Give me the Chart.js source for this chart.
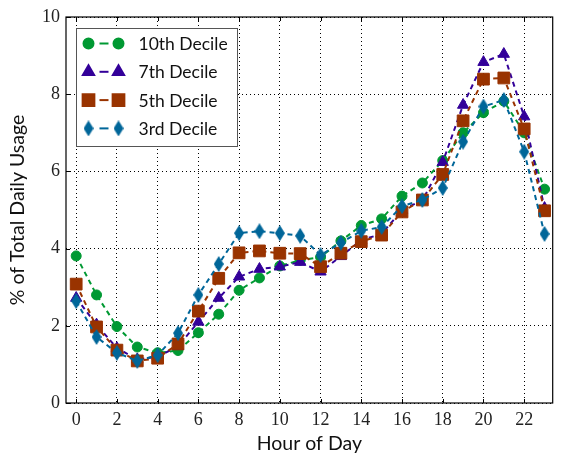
<!DOCTYPE html>
<html>
<head>
<meta charset="utf-8">
<script src="https://cdn.jsdelivr.net/npm/chart.js@4.4.1/dist/chart.umd.min.js"></script>
<style>
  html, body { margin: 0; padding: 0; background: #fff; }
</style>
</head>
<body>
<canvas id="myChart" width="562" height="457"></canvas>
<script>
// Heures de la journée
const hours = [0, 1, 2, 3, 4, 5, 6, 7, 8, 9, 10, 11, 12, 13, 14, 15, 16, 17, 18, 19, 20, 21, 22, 23];

// Séries (% de la consommation journalière)
const decile10 = [3.81, 2.8, 1.98, 1.45, 1.3, 1.36, 1.82, 2.3, 2.92, 3.24, 3.55, 3.7, 3.78, 4.2, 4.6, 4.77, 5.36, 5.7, 6.28, 7.0, 7.52, 7.82, 7.0, 5.54];
const decile7 = [2.72, 2.03, 1.42, 1.13, 1.2, 1.47, 2.1, 2.72, 3.27, 3.47, 3.53, 3.65, 3.4, 3.8, 4.22, 4.38, 5.0, 5.25, 6.24, 7.72, 8.83, 9.04, 7.42, 5.05];
const decile5 = [3.08, 1.97, 1.37, 1.09, 1.16, 1.53, 2.38, 3.23, 3.89, 3.94, 3.88, 3.87, 3.53, 3.88, 4.18, 4.35, 4.95, 5.26, 5.92, 7.31, 8.39, 8.42, 7.1, 4.98];
const decile3 = [2.64, 1.71, 1.3, 1.09, 1.24, 1.81, 2.8, 3.6, 4.4, 4.45, 4.4, 4.33, 3.83, 4.15, 4.46, 4.56, 5.1, 5.26, 5.57, 6.77, 7.68, 7.85, 6.51, 4.38];

const seriesNames = ["10th Decile", "7th Decile", "5th Decile", "3rd Decile"];

// Graduations des axes
const xTicks = [0, 2, 4, 6, 8, 10, 12, 14, 16, 18, 20, 22];
const yTicks = [0, 2, 4, 6, 8, 10];

// Losange étroit (comme le marqueur "d" de matplotlib)
const makeDiamond = (color, w, h) => {
  const c = document.createElement("canvas");
  c.width = w;
  c.height = h;
  const g = c.getContext("2d");
  g.fillStyle = color;
  g.beginPath();
  g.moveTo(w / 2, 0);
  g.lineTo(w, h / 2);
  g.lineTo(w / 2, h);
  g.lineTo(0, h / 2);
  g.closePath();
  g.fill();
  return c;
};

const colors = ["#009933", "#330099", "#993300", "#006699"];
const styles = [
  { pointStyle: "circle", radius: 5 },
  { pointStyle: "triangle", radius: 6.5 },
  { pointStyle: "rect", radius: 8.3 },
  { pointStyle: makeDiamond(colors[3], 10, 16), radius: 8 },
];

const buildDataset = (label, values, i) => ({
  label: label,
  data: values.map((v, k) => ({ x: hours[k], y: v })),
  borderColor: colors[i],
  backgroundColor: colors[i],
  borderWidth: 2,
  borderDash: [5, 4],
  pointStyle: styles[i].pointStyle,
  pointRadius: styles[i].radius,
  pointBorderWidth: 1,
  pointBorderColor: colors[i],
  pointBackgroundColor: colors[i],
  tension: 0,
  order: 4 - i,
});

const chartData = {
  datasets: [
    buildDataset(seriesNames[0], decile10, 0),
    buildDataset(seriesNames[1], decile7, 1),
    buildDataset(seriesNames[2], decile5, 2),
    buildDataset(seriesNames[3], decile3, 3),
  ],
};

// Cadre + petites graduations vers l'intérieur
const framePlugin = {
  id: "frame",
  afterDatasetsDraw(chart) {
    const { ctx, chartArea: a, scales } = chart;
    ctx.save();
    ctx.strokeStyle = "#000";
    ctx.lineWidth = 1.2;
    ctx.setLineDash([]);
    ctx.strokeRect(a.left, a.top, a.right - a.left, a.bottom - a.top);
    ctx.lineWidth = 1;
    xTicks.forEach((v) => {
      const px = Math.round(scales.x.getPixelForValue(v)) + 0.5;
      ctx.beginPath();
      ctx.moveTo(px, a.bottom);
      ctx.lineTo(px, a.bottom - 4);
      ctx.moveTo(px, a.top);
      ctx.lineTo(px, a.top + 4);
      ctx.stroke();
    });
    yTicks.forEach((v) => {
      const py = Math.round(scales.y.getPixelForValue(v)) + 0.5;
      ctx.beginPath();
      ctx.moveTo(a.left, py);
      ctx.lineTo(a.left + 4, py);
      ctx.stroke();
    });
    ctx.restore();
  },
};

// Légende encadrée en haut à gauche
const legendPlugin = {
  id: "boxLegend",
  afterDraw(chart) {
    const { ctx, chartArea: a } = chart;
    const x0 = a.left + 10.5;
    const y0 = a.top + 11.5;
    ctx.save();
    ctx.fillStyle = "#fff";
    ctx.fillRect(x0, y0, 161, 118);
    ctx.strokeStyle = "#555";
    ctx.lineWidth = 1;
    ctx.strokeRect(x0, y0, 161, 118);
    chart.data.datasets.forEach((ds, i) => {
      const cy = y0 + 15 + i * 28.3;
      ctx.strokeStyle = ds.borderColor;
      ctx.lineWidth = 2;
      ctx.beginPath();
      ctx.moveTo(x0 + 23, cy);
      ctx.lineTo(x0 + 32, cy);
      ctx.stroke();
      const opts = {
        pointStyle: ds.pointStyle,
        radius: ds.pointRadius,
        rotation: 0,
        borderWidth: 1,
      };
      ctx.fillStyle = ds.backgroundColor;
      ctx.strokeStyle = ds.borderColor;
      Chart.helpers.drawPoint(ctx, opts, x0 + 12, cy);
      Chart.helpers.drawPoint(ctx, opts, x0 + 42, cy);
      ctx.fillStyle = "#111";
      ctx.font = "17.5px Lato";
      ctx.textBaseline = "middle";
      ctx.textAlign = "left";
      ctx.fillText(ds.label, x0 + 62, cy + 1);
    });
    ctx.restore();
  },
};

const ctx = document.getElementById("myChart").getContext("2d");
const chart = new Chart(ctx, {
  type: "line",
  data: chartData,
  plugins: [framePlugin, legendPlugin],
  options: {
    responsive: false,
    animation: false,
    layout: { padding: { top: 17, right: 0, left: 0, bottom: 0 } },
    plugins: {
      legend: { display: false },
      tooltip: { enabled: false },
    },
    scales: {
      x: {
        type: "linear",
        min: -0.5,
        max: 23.4,
        afterBuildTicks: (scale) => {
          scale.ticks = xTicks.map((v) => ({ value: v }));
        },
        afterFit: (scale) => {
          scale.height = 54;
        },
        ticks: {
          color: "#222",
          font: { family: "Liberation Serif", size: 18 },
          padding: 6,
          maxRotation: 0,
        },
        grid: { color: "#000", lineWidth: 1, drawTicks: false },
        border: { display: false, dash: [1, 3] },
        title: {
          display: true,
          text: "Hour of Day",
          color: "#111",
          font: { family: "Lato", size: 19.5 },
          padding: { top: 0, bottom: 2 },
        },
      },
      y: {
        min: 0,
        max: 10,
        afterBuildTicks: (scale) => {
          scale.ticks = yTicks.map((v) => ({ value: v }));
        },
        afterFit: (scale) => {
          scale.width = 66;
        },
        ticks: {
          color: "#222",
          font: { family: "Liberation Serif", size: 18 },
          padding: 6,
        },
        grid: { color: "#000", lineWidth: 1, drawTicks: false },
        border: { display: false, dash: [1, 3] },
        title: {
          display: true,
          text: "% of Total Daily Usage",
          color: "#111",
          font: { family: "Lato", size: 19.5 },
          padding: { top: 6, bottom: 0 },
        },
      },
    },
  },
});
</script>
</body>
</html>
